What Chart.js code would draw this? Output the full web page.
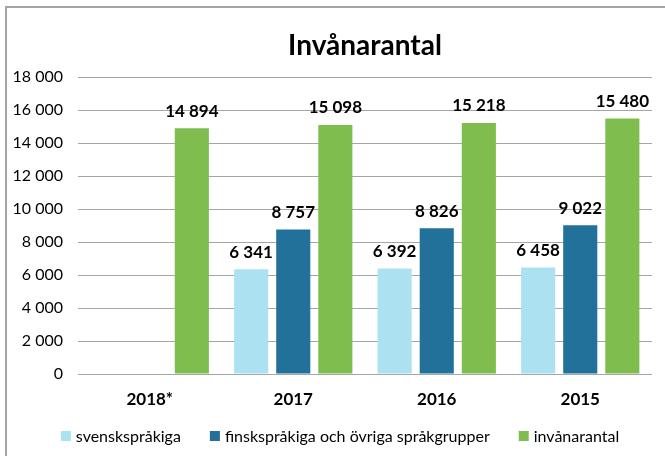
<!DOCTYPE html>
<html>
<head>
<meta charset="utf-8">
<script src="https://cdn.jsdelivr.net/npm/chart.js@4/dist/chart.umd.min.js"></script>
<style>
  html, body { margin: 0; padding: 0; background: #fff; }
  #wrap { width: 665px; height: 456px; position: relative; }
</style>
</head>
<body>
<div id="wrap"><canvas id="canvas" width="665" height="456"></canvas></div>
<script>
var years = ["2018*", "2017", "2016", "2015"];
var svenska = [null, 6341, 6392, 6458];
var finska = [null, 8757, 8826, 9022];
var invanare = [14894, 15098, 15218, 15480];
var seriesNames = ["svenskspråkiga", "finskspråkiga och övriga språkgrupper", "invånarantal"];
var seriesColors = ["#abe1f0", "#21719a", "#7fbd4f"];
var chartTitle = "Invånarantal";

var fontFamily = "Lato, 'Open Sans', sans-serif";

function fmt(n) {
  return String(n).replace(/\B(?=(\d{3})+(?!\d))/g, " ");
}

// border, title, value labels and legend drawn by hand
var extras = {
  id: "extras",
  beforeDraw: function (chart) {
    var ctx = chart.ctx;
    ctx.save();
    ctx.strokeStyle = "#a3a3a3";
    ctx.lineWidth = 2;
    ctx.beginPath();
    ctx.moveTo(6, chart.height + 2);
    ctx.lineTo(6, 7);
    ctx.lineTo(chart.width + 2, 7);
    ctx.stroke();
    ctx.restore();
  },
  afterDatasetsDraw: function (chart) {
    var ctx = chart.ctx;
    var area = chart.chartArea;
    ctx.save();
    ctx.fillStyle = "#000";
    ctx.textAlign = "center";
    ctx.textBaseline = "middle";

    ctx.font = "bold 28px " + fontFamily;
    ctx.fillText(chartTitle, (area.left + area.right) / 2, 46);

    ctx.font = "bold 17px " + fontFamily;
    chart.data.datasets.forEach(function (ds, i) {
      var meta = chart.getDatasetMeta(i);
      meta.data.forEach(function (bar, j) {
        var v = ds.data[j];
        if (v === null) return;
        ctx.fillText(fmt(v), bar.x, bar.y - 17);
      });
    });

    // legend
    ctx.font = "16px " + fontFamily;
    ctx.textAlign = "left";
    var widths = seriesNames.map(function (t) { return 15 + ctx.measureText(t).width; });
    var total = widths.reduce(function (a, b) { return a + b; }, 0) + 29 * (seriesNames.length - 1);
    var x = 340 - total / 2;
    var y = 436;
    seriesNames.forEach(function (t, i) {
      ctx.fillStyle = seriesColors[i];
      ctx.fillRect(x, y - 5, 10, 10);
      ctx.fillStyle = "#000";
      ctx.fillText(t, x + 15, y + 1);
      x += widths[i] + 29;
    });
    ctx.restore();
  }
};

var ctx = document.getElementById("canvas");

var chart = new Chart(ctx, {
  type: "bar",
  data: {
    labels: years,
    datasets: [
      { label: seriesNames[0], data: svenska, backgroundColor: seriesColors[0] },
      { label: seriesNames[1], data: finska, backgroundColor: seriesColors[1] },
      { label: seriesNames[2], data: invanare, backgroundColor: seriesColors[2] }
    ]
  },
  options: {
    responsive: false,
    animation: false,
    layout: { padding: { top: 77, right: 13, bottom: 37, left: 0 } },
    datasets: {
      bar: { categoryPercentage: 0.88, barPercentage: 0.81 }
    },
    plugins: {
      legend: { display: false },
      title: { display: false },
      tooltip: { enabled: false }
    },
    scales: {
      x: {
        grid: { display: false, drawTicks: false },
        border: { display: false },
        ticks: {
          color: "#000",
          padding: 15,
          font: { family: fontFamily, size: 17, weight: "bold" }
        },
        afterFit: function (scale) { scale.height = 45; }
      },
      y: {
        min: 0,
        max: 18000,
        grid: { color: "#a6a6a6", lineWidth: 1, drawTicks: false },
        border: { display: false },
        ticks: {
          stepSize: 2000,
          color: "#000",
          padding: 15,
          font: { family: fontFamily, size: 16 },
          callback: function (v) { return fmt(v); }
        },
        afterFit: function (scale) { scale.width = 78; }
      }
    }
  },
  plugins: [extras]
});
</script>
</body>
</html>
